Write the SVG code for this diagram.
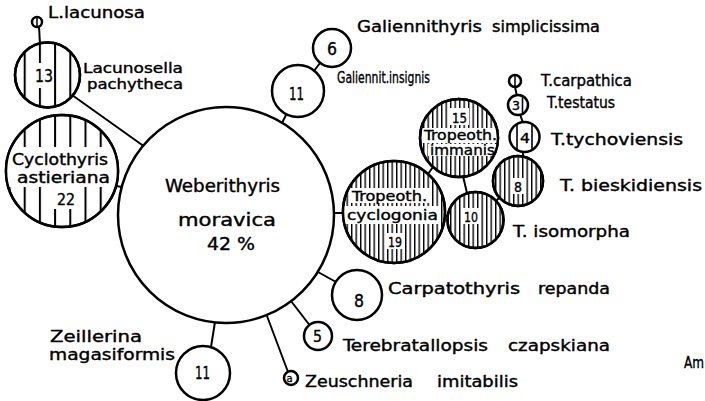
<svg xmlns="http://www.w3.org/2000/svg" width="705" height="401" viewBox="0 0 705 401">
<style>
.c{fill:#fff;stroke:#000;stroke-width:2.5}
.hs{fill:url(#sparse);stroke:#000;stroke-width:2.5}
.hd{fill:url(#dense);stroke:#000;stroke-width:2.5}
.o{fill:none;stroke:#000;stroke-width:2.5}
.w{fill:#fff}
.k line{stroke:#000;stroke-width:2}
text{font-family:"DejaVu Sans Condensed","Liberation Sans Narrow","DejaVu Sans","Liberation Sans",sans-serif;fill:#000;stroke:#000;stroke-width:0.35}
.l{font-size:15px}
.t{font-size:14px}
.m{font-size:17px}
.n{font-size:17px}
.s{font-size:14px}
</style>
<defs>
<pattern id="sparse" patternUnits="userSpaceOnUse" x="8.5" y="0" width="15.2" height="10"><rect x="0" y="0" width="2" height="10" fill="#000"/></pattern>
<pattern id="dense" patternUnits="userSpaceOnUse" x="0" y="0" width="4.5" height="10"><rect x="0" y="0" width="1.4" height="10" fill="#000"/></pattern>
<clipPath id="k13"><circle cx="47.5" cy="75" r="32"/></clipPath>
<clipPath id="k22"><circle cx="62" cy="171" r="55.5"/></clipPath>
<clipPath id="k15"><circle cx="459" cy="138" r="38.5"/></clipPath>
<clipPath id="k19"><circle cx="394" cy="212" r="50.5"/></clipPath>
<clipPath id="k10"><circle cx="475.5" cy="220" r="27.5"/></clipPath>
<clipPath id="k8b"><circle cx="518" cy="181" r="24.5"/></clipPath>
</defs>

<g id="connectors" class="k">
<line x1="39" y1="27" x2="40" y2="44"/>
<line x1="72" y1="95" x2="145" y2="147"/>
<line x1="116" y1="186" x2="122" y2="187"/>
<line x1="286" y1="115" x2="282" y2="123"/>
<line x1="314" y1="71" x2="320" y2="63"/>
<line x1="333" y1="213" x2="344" y2="213"/>
<line x1="444" y1="216" x2="449" y2="216"/>
<line x1="433" y1="167" x2="428" y2="174"/>
<line x1="463" y1="176" x2="467" y2="193"/>
<line x1="496" y1="201" x2="500" y2="197"/>
<line x1="523" y1="151" x2="523" y2="157"/>
<line x1="520" y1="114" x2="523" y2="123"/>
<line x1="515" y1="87" x2="517" y2="96"/>
<line x1="318" y1="272" x2="336" y2="282"/>
<line x1="291" y1="301" x2="309.5" y2="325"/>
<line x1="267" y1="316" x2="288" y2="372"/>
<line x1="215" y1="322" x2="211" y2="347"/>
<circle cx="145" cy="147" r="2.5" fill="#000"/>
</g>

<g id="weberithyris">
<circle class="c" cx="226" cy="215" r="108"/>
<text class="m" x="165" y="192" textLength="115" lengthAdjust="spacingAndGlyphs">Weberithyris</text>
<text class="m" x="178" y="226" textLength="98" lengthAdjust="spacingAndGlyphs">moravica</text>
<text class="m" x="207" y="250" textLength="48" lengthAdjust="spacingAndGlyphs">42 %</text>
</g>

<g id="l-lacunosa">
<circle class="o" cx="37" cy="22" r="5"/>
<line x1="37" y1="17" x2="37" y2="27" stroke="#000" stroke-width="1.5"/>
<text class="l" x="48" y="18" textLength="97" lengthAdjust="spacingAndGlyphs">L.lacunosa</text>
</g>

<g id="lacunosella">
<circle class="hs" cx="47.5" cy="75" r="32.5"/>
<g clip-path="url(#k13)"><rect class="w" x="33" y="63" width="20" height="25"/></g>
<circle class="o" cx="47.5" cy="75" r="32.5"/>
<text class="n" x="35" y="82" textLength="18" lengthAdjust="spacingAndGlyphs">13</text>
<text class="t" x="83" y="72.5" textLength="100" lengthAdjust="spacingAndGlyphs">Lacunosella</text>
<text class="t" x="87" y="88.5" textLength="96" lengthAdjust="spacingAndGlyphs">pachytheca</text>
</g>

<g id="cyclothyris">
<circle class="hs" cx="62" cy="171" r="56"/>
<g clip-path="url(#k22)"><rect class="w" x="6" y="147" width="112" height="40"/><rect class="w" x="50" y="186" width="28" height="23"/></g>
<circle class="o" cx="62" cy="171" r="56"/>
<text class="l" x="12" y="165" textLength="96" lengthAdjust="spacingAndGlyphs">Cyclothyris</text>
<text class="l" x="17" y="183" textLength="93" lengthAdjust="spacingAndGlyphs">astieriana</text>
<text class="l" x="57" y="205" textLength="18" lengthAdjust="spacingAndGlyphs">22</text>
</g>

<g id="galiennit-insignis">
<circle class="c" cx="298" cy="91" r="26"/>
<text class="n" x="289" y="100" textLength="15" lengthAdjust="spacingAndGlyphs">11</text>
<text x="337" y="83" font-size="16" textLength="93" lengthAdjust="spacingAndGlyphs">Galiennit.insignis</text>
</g>

<g id="galiennithyris-simplicissima">
<circle class="c" cx="332" cy="48" r="19"/>
<text class="n" x="327" y="55" textLength="10" lengthAdjust="spacingAndGlyphs">6</text>
<text class="l" x="357" y="32" textLength="125" lengthAdjust="spacingAndGlyphs">Galiennithyris</text>
<text class="l" x="492" y="32" textLength="108" lengthAdjust="spacingAndGlyphs">simplicissima</text>
</g>

<g id="tropeoth-immanis">
<circle class="hd" cx="459" cy="138" r="39"/>
<g clip-path="url(#k15)"><rect class="w" x="450" y="108" width="19" height="17"/><rect class="w" x="422" y="128" width="76" height="15"/><rect class="w" x="428" y="144" width="69" height="12"/></g>
<circle class="o" cx="459" cy="138" r="39"/>
<text class="s" x="452" y="123" textLength="15" lengthAdjust="spacingAndGlyphs">15</text>
<text class="s" x="424" y="140" textLength="73" lengthAdjust="spacingAndGlyphs">Tropeoth.</text>
<text class="s" x="430" y="155" textLength="65" lengthAdjust="spacingAndGlyphs">immanis</text>
</g>

<g id="tropeoth-cyclogonia">
<circle class="hd" cx="394" cy="212" r="51"/>
<g clip-path="url(#k19)"><rect class="w" x="350" y="188" width="80" height="15"/><rect class="w" x="344" y="206" width="97" height="18"/><rect class="w" x="385" y="233" width="20" height="16"/></g>
<circle class="o" cx="394" cy="212" r="51"/>
<text class="s" x="352" y="201" textLength="75" lengthAdjust="spacingAndGlyphs">Tropeoth.</text>
<text class="s" x="347" y="220" textLength="91" lengthAdjust="spacingAndGlyphs">cyclogonia</text>
<text class="s" x="388" y="247" textLength="14" lengthAdjust="spacingAndGlyphs">19</text>
</g>

<g id="t-isomorpha">
<circle class="hd" cx="475.5" cy="220" r="28"/>
<g clip-path="url(#k10)"><rect class="w" x="462" y="208" width="19" height="16"/></g>
<circle class="o" cx="475.5" cy="220" r="28"/>
<text class="s" x="464" y="222" textLength="14" lengthAdjust="spacingAndGlyphs">10</text>
<text class="l" x="513" y="237" textLength="117" lengthAdjust="spacingAndGlyphs">T. isomorpha</text>
</g>

<g id="t-bieskidiensis">
<circle class="hd" cx="518" cy="181" r="25"/>
<g clip-path="url(#k8b)"><rect class="w" x="513" y="178" width="11" height="16"/></g>
<circle class="o" cx="518" cy="181" r="25"/>
<text class="s" x="514" y="192" textLength="8" lengthAdjust="spacingAndGlyphs">8</text>
<text class="l" x="560" y="191" textLength="142" lengthAdjust="spacingAndGlyphs">T. bieskidiensis</text>
</g>

<g id="t-tychoviensis">
<circle class="c" cx="524.5" cy="137" r="15"/>
<line x1="517" y1="125" x2="517" y2="150" stroke="#000" stroke-width="1.6"/>
<line x1="532" y1="125" x2="532" y2="150" stroke="#000" stroke-width="1.6"/>
<text class="s" x="520" y="143" textLength="10" lengthAdjust="spacingAndGlyphs">4</text>
<text class="l" x="551" y="145" textLength="132" lengthAdjust="spacingAndGlyphs">T.tychoviensis</text>
</g>

<g id="t-testatus">
<circle class="c" cx="518" cy="105" r="10"/>
<line x1="522.5" y1="97" x2="522.5" y2="113" stroke="#000" stroke-width="1.6"/>
<text x="512" y="110" font-size="12" textLength="8" lengthAdjust="spacingAndGlyphs">3</text>
<text class="l" x="547" y="108" textLength="68" lengthAdjust="spacingAndGlyphs">T.testatus</text>
</g>

<g id="t-carpathica">
<circle class="o" cx="515" cy="81" r="6"/>
<line x1="515" y1="76" x2="515" y2="86" stroke="#000" stroke-width="1.5"/>
<text class="l" x="541" y="86" textLength="91" lengthAdjust="spacingAndGlyphs">T.carpathica</text>
</g>

<g id="carpatothyris-repanda">
<circle class="c" cx="357" cy="295" r="25"/>
<text class="n" x="354" y="307" textLength="10" lengthAdjust="spacingAndGlyphs">8</text>
<text class="l" x="388" y="294" textLength="132" lengthAdjust="spacingAndGlyphs">Carpatothyris</text>
<text class="l" x="538" y="294" textLength="72" lengthAdjust="spacingAndGlyphs">repanda</text>
</g>

<g id="terebratallopsis-czapskiana">
<circle class="c" cx="318" cy="336" r="14"/>
<text class="l" x="313" y="342" textLength="9" lengthAdjust="spacingAndGlyphs">5</text>
<text class="l" x="343" y="351" textLength="145" lengthAdjust="spacingAndGlyphs">Terebratallopsis</text>
<text class="l" x="508" y="351" textLength="102" lengthAdjust="spacingAndGlyphs">czapskiana</text>
</g>

<g id="zeuschneria-imitabilis">
<circle class="o" cx="291" cy="378" r="7"/>
<text x="286.5" y="382" font-size="11">a</text>
<text class="l" x="305" y="387" textLength="108" lengthAdjust="spacingAndGlyphs">Zeuschneria</text>
<text class="l" x="437" y="387" textLength="81" lengthAdjust="spacingAndGlyphs">imitabilis</text>
</g>

<g id="zeillerina-magasiformis">
<circle class="c" cx="203" cy="373" r="27"/>
<text class="n" x="195" y="379" textLength="15" lengthAdjust="spacingAndGlyphs">11</text>
<text class="l" x="50" y="342" textLength="92" lengthAdjust="spacingAndGlyphs">Zeillerina</text>
<text class="l" x="49" y="360" textLength="126" lengthAdjust="spacingAndGlyphs">magasiformis</text>
</g>

<text class="l" x="684" y="368" textLength="20" lengthAdjust="spacingAndGlyphs">Am</text>
</svg>
